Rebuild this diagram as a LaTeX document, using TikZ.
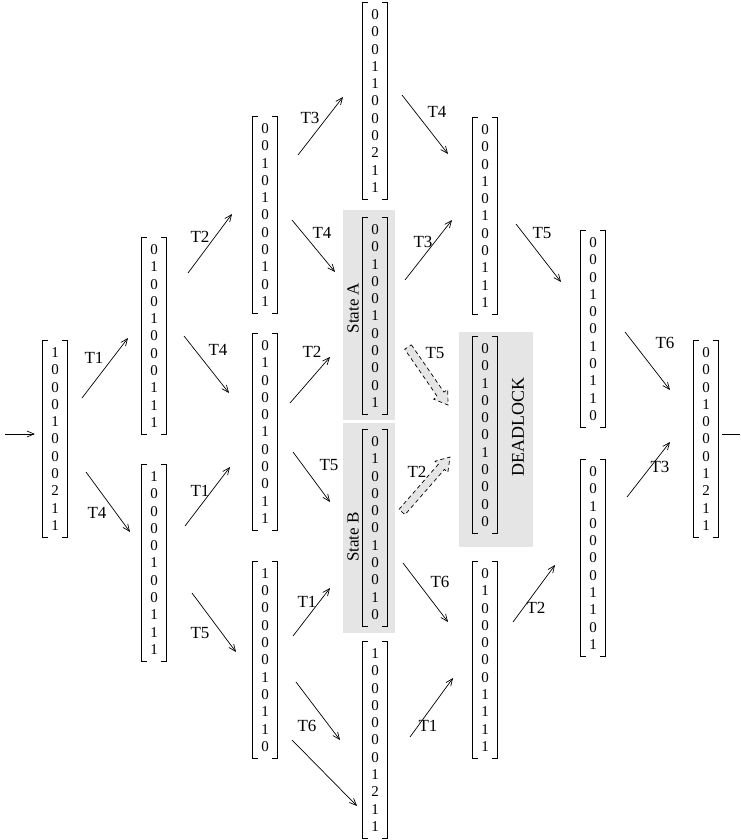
\documentclass[tikz,border=0pt]{standalone}
\usepackage{fontspec}
\setmainfont{Liberation Serif}
\usetikzlibrary{arrows.meta}
\definecolor{boxgray}{gray}{0.9}
\newcommand{\vfont}{\fontsize{15}{17.3}\selectfont}
\newcommand{\mvec}[4]{%
  \node[vecnode] (#1) at (#2,#3) {#4};
  \draw[bracket] ([xshift=5pt]#1.north west) -- (#1.north west) -- (#1.south west) -- ([xshift=5pt]#1.south west);
  \draw[bracket] ([xshift=-5pt]#1.north east) -- (#1.north east) -- (#1.south east) -- ([xshift=-5pt]#1.south east);
}
\newcommand{\fatarrow}[4]{%
  \begin{scope}[shift={(#1,#2)}, rotate=#3]
    \draw[fatarr] (0,-4) -- (#4-13,-4) -- (#4-13,-8.5) -- (#4,0) -- (#4-13,8.5) -- (#4-13,4) -- (0,4) -- cycle;
  \end{scope}}
\begin{document}
\begin{tikzpicture}[x=1pt,y=-1pt,
  vecnode/.style={inner sep=0pt, minimum width=24pt, minimum height=196pt, align=center, font=\vfont},
  bracket/.style={line width=0.9pt},
  arr/.style={line width=0.7pt, -{Straight Barb[length=7pt,width=6pt]}},
  plain/.style={line width=0.7pt},
  lbl/.style={font=\fontsize{17}{17}\selectfont, inner sep=0pt},
  graybox/.style={fill=boxgray, draw=none, inner sep=0pt},
  fatarr/.style={fill=boxgray, draw, line width=0.7pt, dash pattern=on 4pt off 3pt},
  vlabel/.style={font=\fontsize{17}{17}\selectfont, rotate=90, inner sep=0pt}]
\useasboundingbox (0,0) rectangle (740,840);

% gray boxes
\node[graybox, minimum width=52pt, minimum height=210pt] (boxA) at (369,315) {};
\node[graybox, minimum width=52pt, minimum height=210pt] (boxB) at (369,528) {};
\node[graybox, minimum width=74pt, minimum height=215pt] (boxD) at (496,439.5) {};

% vectors
\mvec{v1}{55}{439}{1\\0\\0\\0\\1\\0\\0\\0\\2\\1\\1}
\mvec{v2a}{154}{336}{0\\1\\0\\0\\1\\0\\0\\0\\1\\1\\1}
\mvec{v2b}{154}{563}{1\\0\\0\\0\\0\\1\\0\\0\\1\\1\\1}
\mvec{v3a}{265}{215}{0\\0\\1\\0\\1\\0\\0\\0\\1\\0\\1}
\mvec{v3b}{265}{432}{0\\1\\0\\0\\0\\1\\0\\0\\0\\1\\1}
\mvec{v3c}{265}{660}{1\\0\\0\\0\\0\\0\\1\\0\\1\\1\\0}
\mvec{v4a}{375}{101}{0\\0\\0\\1\\1\\0\\0\\0\\2\\1\\1}
\mvec{v4b}{375}{316}{0\\0\\1\\0\\0\\1\\0\\0\\0\\0\\1}
\mvec{v4c}{375}{528}{0\\1\\0\\0\\0\\0\\1\\0\\0\\1\\0}
\mvec{v4d}{375}{740}{1\\0\\0\\0\\0\\0\\0\\1\\2\\1\\1}
\mvec{v5a}{485}{216}{0\\0\\0\\1\\0\\1\\0\\0\\1\\1\\1}
\mvec{v5b}{485}{435}{0\\0\\1\\0\\0\\0\\1\\0\\0\\0\\0}
\mvec{v5c}{485}{660}{0\\1\\0\\0\\0\\0\\0\\1\\1\\1\\1}
\mvec{v6a}{593}{329}{0\\0\\0\\1\\0\\0\\1\\0\\1\\1\\0}
\mvec{v6b}{593}{558}{0\\0\\1\\0\\0\\0\\0\\1\\1\\0\\1}
\mvec{v7}{706}{439}{0\\0\\0\\1\\0\\0\\0\\1\\2\\1\\1}

% rotated labels
\node[vlabel] (sa) at (353,308) {State A};
\node[vlabel] (sb) at (353,537) {State B};
\node[vlabel, font=\fontsize{18}{18}\selectfont] (dl) at (518,427) {DEADLOCK};

% entry and exit
\coordinate (in) at (5,434);
\draw[arr, shorten >=8pt] (in) -- (in -| v1.west);
\coordinate (out) at (740,434);
\draw[plain, shorten <=4pt] (out -| v7.east) -- (out);

% arrows
\coordinate (a1s) at (82,398);  \coordinate (a1e) at (128,338);  \draw[arr] (a1s) -- (a1e);
\coordinate (a2s) at (86,472);  \coordinate (a2e) at (130,532);  \draw[arr] (a2s) -- (a2e);
\coordinate (a3s) at (188,273); \coordinate (a3e) at (232,214);  \draw[arr] (a3s) -- (a3e);
\coordinate (a4s) at (184,336); \coordinate (a4e) at (229,393);  \draw[arr] (a4s) -- (a4e);
\coordinate (a5s) at (185,526); \coordinate (a5e) at (230,467);  \draw[arr] (a5s) -- (a5e);
\coordinate (a6s) at (192,593); \coordinate (a6e) at (236,652);  \draw[arr] (a6s) -- (a6e);
\coordinate (a7s) at (298,155); \coordinate (a7e) at (343,97);   \draw[arr] (a7s) -- (a7e);
\coordinate (a8s) at (292,220); \coordinate (a8e) at (335,272);  \draw[arr] (a8s) -- (a8e);
\coordinate (a9s) at (290,403); \coordinate (a9e) at (330,357);  \draw[arr] (a9s) -- (a9e);
\coordinate (a10s) at (293,452); \coordinate (a10e) at (330,502); \draw[arr] (a10s) -- (a10e);
\coordinate (a11s) at (293,636); \coordinate (a11e) at (330,588); \draw[arr] (a11s) -- (a11e);
\coordinate (a12s) at (296,682); \coordinate (a12e) at (340,740); \draw[arr] (a12s) -- (a12e);
\coordinate (a13s) at (292,740); \coordinate (a13e) at (357,806); \draw[arr] (a13s) -- (a13e);
\coordinate (a14s) at (402,95);  \coordinate (a14e) at (448,154); \draw[arr] (a14s) -- (a14e);
\coordinate (a15s) at (405,280); \coordinate (a15e) at (452,220); \draw[arr] (a15s) -- (a15e);
\coordinate (a18s) at (403,563); \coordinate (a18e) at (448,622); \draw[arr] (a18s) -- (a18e);
\coordinate (a19s) at (410,737); \coordinate (a19e) at (453,678); \draw[arr] (a19s) -- (a19e);
\coordinate (a20s) at (516,224); \coordinate (a20e) at (561,282); \draw[arr] (a20s) -- (a20e);
\coordinate (a21s) at (513,622); \coordinate (a21e) at (555,565); \draw[arr] (a21s) -- (a21e);
\coordinate (a22s) at (625,332); \coordinate (a22e) at (670,390); \draw[arr] (a22s) -- (a22e);
\coordinate (a23s) at (627,497); \coordinate (a23e) at (670,442); \draw[arr] (a23s) -- (a23e);

% dashed fat arrows to deadlock
\fatarrow{408}{347}{-55.4}{70.5}
\fatarrow{402}{512}{48.9}{73}

% labels
\node[lbl] (t1) at (94,358) {T1};
\node[lbl] (t2) at (97,513) {T4};
\node[lbl] (t3) at (200,237) {T2};
\node[lbl] (t4) at (218,350) {T4};
\node[lbl] (t5) at (200,491) {T1};
\node[lbl] (t6) at (200,633) {T5};
\node[lbl] (t7) at (310,118) {T3};
\node[lbl] (t8) at (322,233) {T4};
\node[lbl] (t9) at (312,352) {T2};
\node[lbl] (t10) at (329,465) {T5};
\node[lbl] (t11) at (307,602) {T1};
\node[lbl] (t12) at (307,726) {T6};
\node[lbl] (t14) at (437,112) {T4};
\node[lbl] (t15) at (423,242) {T3};
\node[lbl] (t16) at (435,353) {T5};
\node[lbl] (t17) at (417,472) {T2};
\node[lbl] (t18) at (440,582) {T6};
\node[lbl] (t19) at (428,726) {T1};
\node[lbl] (t20) at (542,233) {T5};
\node[lbl] (t21) at (536,608) {T2};
\node[lbl] (t22) at (665,343) {T6};
\node[lbl] (t23) at (660,467) {T3};
\end{tikzpicture}
\end{document}
